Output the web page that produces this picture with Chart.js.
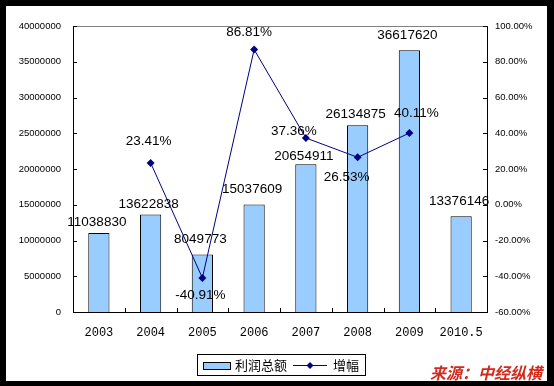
<!DOCTYPE html>
<html>
<head>
<meta charset="utf-8">
<script src="https://cdn.jsdelivr.net/npm/chart.js@4"></script>
<style>
  html, body { margin: 0; padding: 0; background: #000; }
  #wrap { position: absolute; left: 6px; top: 6px; width: 541px; height: 375px; background: #fff; }
</style>
</head>
<body>
<div id="wrap"><canvas id="profitChart" width="541" height="375"></canvas></div>
<script>
const years = ['2003', '2004', '2005', '2006', '2007', '2008', '2009', '2010.5'];
const profit = [11038830, 13622838, 8049773, 15037609, 20654911, 26134875, 36617620, 13376146];
const growth = [null, 23.41, -40.91, 86.81, 37.36, 26.53, 40.11, null];

// label offsets, px from bar top / point
const barLabelDy = [-11, -10, -15, -15, -8, -11, -15, -15];
const lineLabelOff = [null, [-2, -22], [-2, 17], [-5, -17], [-12, -7], [-11, 20], [7, -20], null];

const tickFont = { family: 'Arial, "Liberation Sans"', size: 9.5 };

const overlay = {
    id: 'overlay',
    afterDraw(chart) {
        const ctx = chart.ctx;
        const area = chart.chartArea;
        const x = chart.scales.x, y = chart.scales.y, y2 = chart.scales.y2;
        ctx.save();

        // top frame line
        ctx.strokeStyle = '#808080';
        ctx.lineWidth = 1;
        ctx.beginPath();
        ctx.moveTo(area.left, area.top + 0.5);
        ctx.lineTo(area.right, area.top + 0.5);
        ctx.stroke();

        // inside tick marks
        ctx.strokeStyle = '#000';
        ctx.beginPath();
        y.ticks.forEach(t => {
            const py = Math.round(y.getPixelForValue(t.value)) + 0.5;
            ctx.moveTo(area.left, py); ctx.lineTo(area.left + 4, py);
        });
        y2.ticks.forEach(t => {
            const py = Math.round(y2.getPixelForValue(t.value)) + 0.5;
            ctx.moveTo(area.right - 4, py); ctx.lineTo(area.right, py);
        });
        for (let i = 0; i < years.length - 1; i++) {
            const px = Math.round((x.getPixelForTick(i) + x.getPixelForTick(i + 1)) / 2) + 0.5;
            ctx.moveTo(px, area.bottom); ctx.lineTo(px, area.bottom - 4);
        }
        ctx.stroke();

        // data labels
        ctx.fillStyle = '#000';
        ctx.font = '13.5px Arial, "Liberation Sans"';
        ctx.textAlign = 'center';
        ctx.textBaseline = 'middle';
        chart.getDatasetMeta(0).data.forEach((bar, i) => {
            ctx.fillText(String(profit[i]), bar.x - 2, bar.y + barLabelDy[i]);
        });
        chart.getDatasetMeta(1).data.forEach((pt, i) => {
            if (growth[i] === null) return;
            const off = lineLabelOff[i];
            ctx.fillText(growth[i].toFixed(2) + '%', pt.x + off[0], pt.y + off[1]);
        });

        // legend
        const lx = 191, ly = 348;
        ctx.strokeStyle = '#000';
        ctx.strokeRect(lx + 0.5, ly + 0.5, 168, 21);
        ctx.fillStyle = '#99ccff';
        ctx.fillRect(lx + 6, ly + 8, 27, 7);
        ctx.strokeRect(lx + 6.5, ly + 8.5, 27, 7);
        ctx.fillStyle = '#000';
        ctx.font = '13px "Noto Sans CJK SC"';
        ctx.textAlign = 'left';
        ctx.fillText('利润总额', lx + 38, ly + 11);
        ctx.strokeStyle = '#000080';
        ctx.beginPath();
        ctx.moveTo(lx + 96, ly + 11.5); ctx.lineTo(lx + 130, ly + 11.5);
        ctx.stroke();
        ctx.fillStyle = '#000080';
        ctx.beginPath();
        ctx.moveTo(lx + 113, ly + 8); ctx.lineTo(lx + 116.5, ly + 11.5);
        ctx.lineTo(lx + 113, ly + 15); ctx.lineTo(lx + 109.5, ly + 11.5);
        ctx.fill();
        ctx.fillStyle = '#000';
        ctx.fillText('增幅', lx + 136, ly + 11);

        // source
        ctx.fillStyle = '#d42a1e';
        ctx.font = 'italic bold 16px "Noto Sans CJK SC"';
        ctx.fillText('来源：中经纵横', 424, 367);
        ctx.restore();
    }
};

new Chart(document.getElementById('profitChart'), {
    data: {
        labels: years,
        datasets: [{
            type: 'bar',
            label: '利润总额',
            data: profit,
            backgroundColor: '#99ccff',
            borderColor: '#000',
            borderWidth: 1,
            barPercentage: 0.41,
            categoryPercentage: 1,
            yAxisID: 'y',
            order: 2
        }, {
            type: 'line',
            label: '增幅',
            data: growth,
            borderColor: '#000080',
            backgroundColor: '#000080',
            borderWidth: 1,
            pointStyle: 'rectRot',
            pointRadius: 4,
            pointBorderWidth: 0,
            yAxisID: 'y2',
            order: 1
        }]
    },
    options: {
        responsive: false,
        animation: false,
        layout: { padding: { top: 20, left: 0, right: 0, bottom: 0 } },
        plugins: { legend: { display: false }, tooltip: { enabled: false } },
        scales: {
            x: {
                grid: { display: false, drawTicks: false },
                border: { color: '#000' },
                ticks: { color: '#000', padding: 14, font: { family: '"Liberation Mono"', size: 12 } },
                afterFit(s) { s.height = 69; }
            },
            y: {
                position: 'left',
                min: 0, max: 40000000,
                grid: { display: false, drawTicks: false },
                border: { color: '#000' },
                ticks: {
                    stepSize: 5000000, color: '#000', padding: 12, font: tickFont,
                    callback: v => String(v)
                },
                afterFit(s) { s.width = 67; }
            },
            y2: {
                position: 'right',
                min: -60, max: 100,
                grid: { display: false, drawTicks: false },
                border: { color: '#000' },
                ticks: {
                    stepSize: 20, color: '#000', padding: 8, font: tickFont,
                    callback: v => v.toFixed(2) + '%'
                },
                afterFit(s) { s.width = 60; }
            }
        }
    },
    plugins: [overlay]
});
</script>
</body>
</html>
